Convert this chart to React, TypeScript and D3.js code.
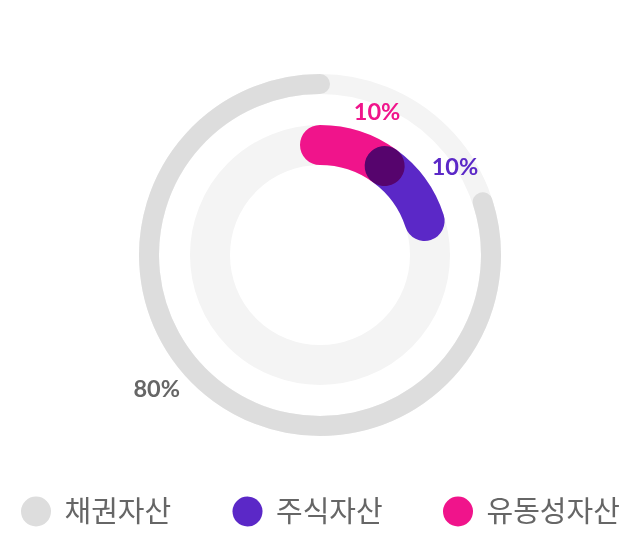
import React from "react";
import * as d3 from "d3";

const categories = ["채권자산", "주식자산", "유동성자산"];
const values = [80, 10, 10];
const colors = ["#dddddd", "#5b28c7", "#f0148b"];
const labelColors = ["#666666", "#5b28c7", "#f0148b"];
const valueLabels = ["80%", "10%", "10%"];
// drawing order around the circle (clockwise from top)
const arcOrder = [2, 1, 0];

const W = 640;
const H = 556;
const cx = 320;
const cy = 255;

export default function App() {
  const total = d3.sum(values);
  const angle = d3.scaleLinear().domain([0, total]).range([0, 2 * Math.PI]);

  const spans: { i: number; a0: number; a1: number }[] = [];
  let acc = 0;
  for (const i of arcOrder) {
    spans.push({ i, a0: angle(acc), a1: angle(acc + values[i]) });
    acc += values[i];
  }

  const arcPath = (r: number, a0: number, a1: number) => {
    const p = d3.path();
    p.moveTo(r * Math.sin(a0), -r * Math.cos(a0));
    p.arc(0, 0, r, a0 - Math.PI / 2, a1 - Math.PI / 2, false);
    return p.toString();
  };

  const outerR = 171;
  const outerW = 20;
  const innerR = 110;
  const innerW = 40;

  const labelPos: Record<number, [number, number]> = {
    0: [211, 230.7],
    1: [161.4, 56.7],
    2: [154.4, 21.7],
  };

  const legendX = [36, 247.5, 458];

  return (
    <svg
      width={W}
      height={H}
      style={{ position: "absolute", left: 0, top: 0, background: "#fff" }}
    >
      <g transform={`translate(${cx},${cy})`}>
        <circle r={outerR} fill="none" stroke="#f4f4f4" strokeWidth={outerW} />
        <circle r={innerR} fill="none" stroke="#f4f4f4" strokeWidth={innerW} />
        {spans
          .filter((s) => s.i === 0)
          .map((s) => (
            <path
              key={s.i}
              d={arcPath(outerR, s.a0, s.a1)}
              fill="none"
              stroke={colors[s.i]}
              strokeWidth={outerW}
              strokeLinecap="round"
            />
          ))}
        <g style={{ isolation: "isolate" }}>
          {spans
            .filter((s) => s.i !== 0)
            .map((s) => (
              <path
                key={s.i}
                d={arcPath(innerR, s.a0, s.a1)}
                fill="none"
                stroke={colors[s.i]}
                strokeWidth={innerW}
                strokeLinecap="round"
                style={{ mixBlendMode: "multiply" }}
              />
            ))}
        </g>
        {categories.map((c, i) => {
          const [r, deg] = labelPos[i];
          const a = (deg * Math.PI) / 180;
          return (
            <text
              key={c}
              x={r * Math.sin(a)}
              y={-r * Math.cos(a) + 8.5}
              textAnchor="middle"
              fill={labelColors[i]}
              fontFamily="Lato, 'Noto Sans', sans-serif"
              fontWeight={700}
              fontSize={23.5}
            >
              {valueLabels[i]}
            </text>
          );
        })}
      </g>
      <g>
        {categories.map((c, i) => (
          <g key={c} transform={`translate(${legendX[i]},511.5)`}>
            <circle r={15} fill={colors[i]} />
            <text
              x={28.5}
              y={0}
              dy="0.36em"
              fill="#666666"
              fontFamily="'Noto Sans CJK KR', sans-serif"
              fontSize={29}
            >
              {c}
            </text>
          </g>
        ))}
      </g>
    </svg>
  );
}
